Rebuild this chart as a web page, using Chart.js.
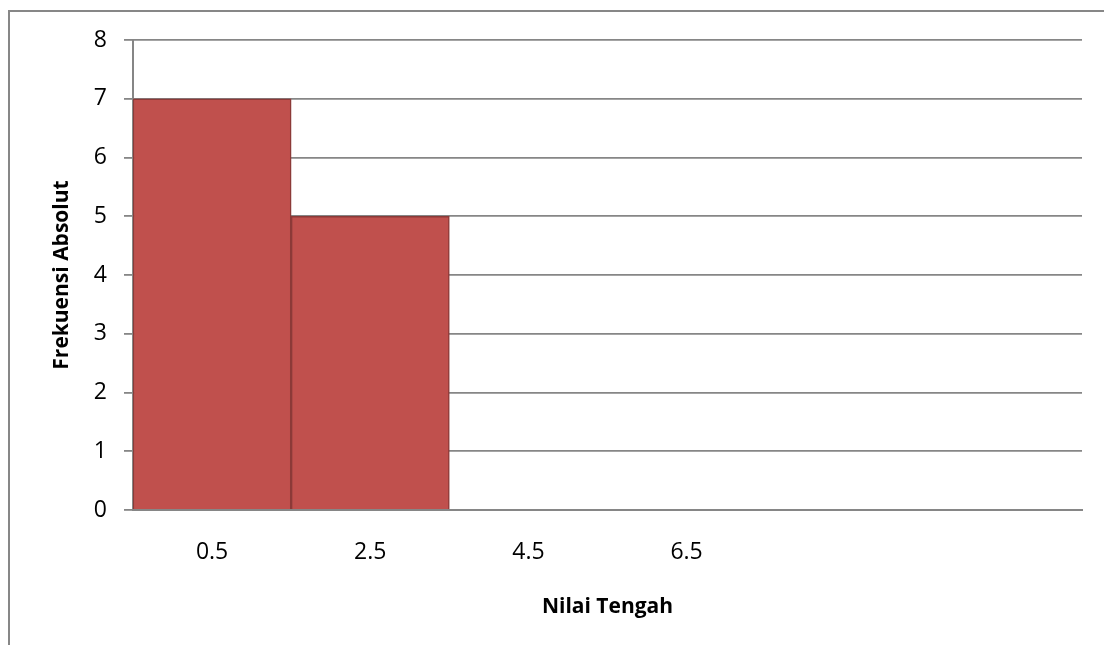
<!DOCTYPE html>
<html>
<head>
<meta charset="utf-8">
<title>Frekuensi Absolut</title>
<script src="https://cdn.jsdelivr.net/npm/chart.js@4"></script>
<style>
  html, body { margin: 0; padding: 0; background: #fff; }
  #frame {
    position: absolute; left: 8px; top: 10px; width: 1200px; height: 700px;
    border-left: 2px solid #878787; border-top: 2px solid #878787;
  }
  #wrap { position: absolute; left: 0; top: 0; width: 1104px; height: 645px; }
</style>
</head>
<body>
<div id="frame"></div>
<div id="wrap"><canvas id="myChart"></canvas></div>
<script>
// Data
const categories = ["0.5", "2.5", "4.5", "6.5", "", ""];
const frequencies = [7, 5, 0, 0, 0, 0];
const yTicks = [0, 1, 2, 3, 4, 5, 6, 7, 8];

const gridColor = '#868686';

const myChart = document.getElementById("myChart");

let barChart = new Chart(myChart, {
  type: 'bar',
  data: {
    labels: categories,
    datasets: [{
      label: 'Frekuensi Absolut',
      data: frequencies,
      backgroundColor: '#C0504D',
      borderColor: '#8C3A38',
      borderWidth: 1.5,
      categoryPercentage: 1,
      barPercentage: 1
    }]
  },
  options: {
    responsive: true,
    maintainAspectRatio: false,
    animation: false,
    layout: { padding: { left: 0, top: 40, right: 22, bottom: 0 } },
    plugins: {
      legend: { display: false },
      tooltip: { enabled: false }
    },
    scales: {
      x: {
        grid: { display: false, drawTicks: false },
        border: { color: gridColor, width: 2 },
        ticks: {
          color: '#000',
          font: { family: 'Open Sans', size: 23 },
          padding: 29,
          maxRotation: 0,
          autoSkip: false
        },
        title: {
          display: true,
          text: 'Nilai Tengah',
          color: '#000',
          font: { family: 'Open Sans', size: 21, weight: 'bold' },
          padding: { top: 0, bottom: 25 }
        },
        afterFit: scale => { scale.height = 135; }
      },
      y: {
        min: yTicks[0],
        max: yTicks[yTicks.length - 1],
        afterBuildTicks: scale => {
          scale.ticks = yTicks.map(v => ({ value: v }));
        },
        grid: { color: gridColor, lineWidth: 1.8, tickLength: 9, drawTicks: true },
        border: { color: gridColor, width: 2 },
        ticks: {
          color: '#000',
          font: { family: 'Open Sans', size: 23 },
          padding: 17
        },
        title: {
          display: true,
          text: 'Frekuensi Absolut',
          color: '#000',
          font: { family: 'Open Sans', size: 21, weight: 'bold' },
          padding: { top: 49, bottom: 0 }
        },
        afterFit: scale => { scale.width = 133; }
      }
    }
  }
});
</script>
</body>
</html>
